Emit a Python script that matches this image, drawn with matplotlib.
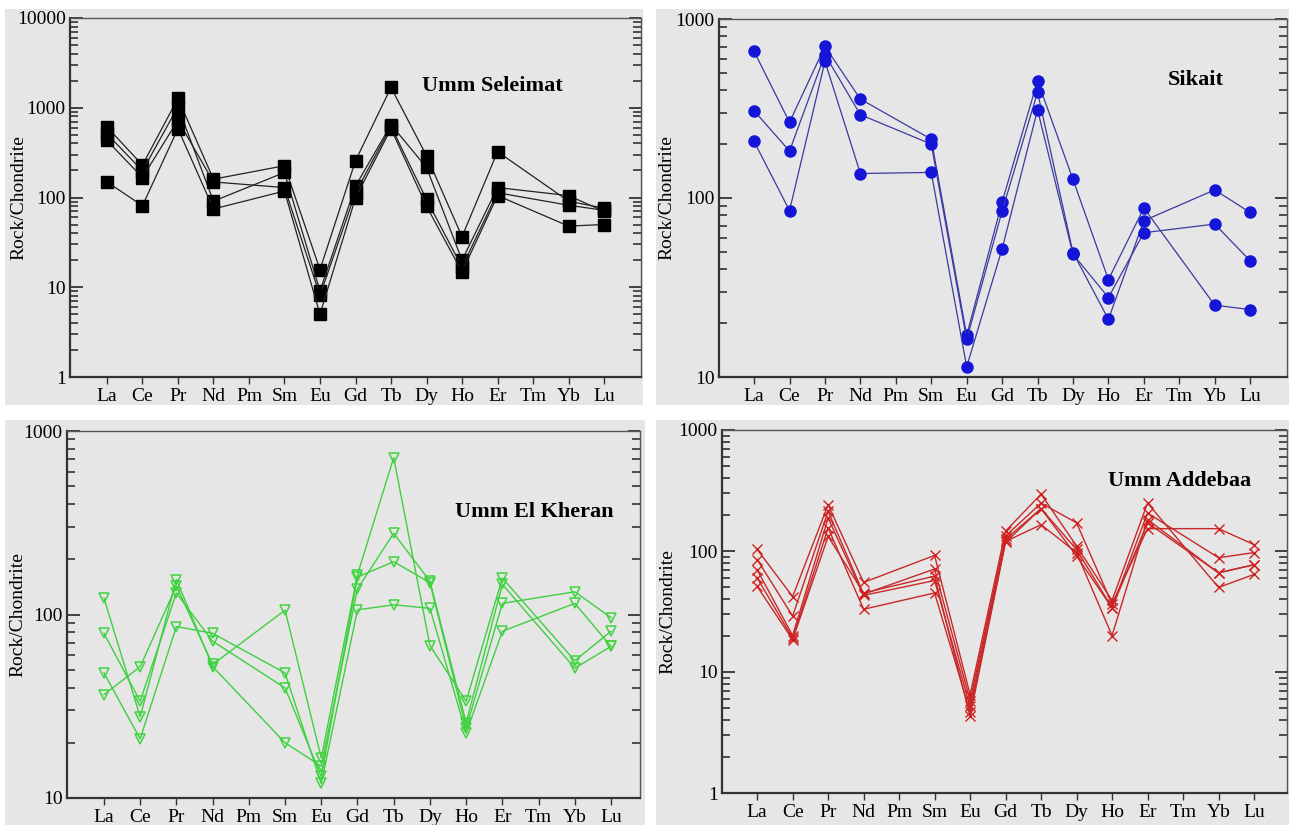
import matplotlib
matplotlib.use("Agg")
import matplotlib.pyplot as plt
from matplotlib.patches import Rectangle
from matplotlib.ticker import LogLocator, NullFormatter, FixedLocator
import numpy as np

plt.rcParams['font.family'] = ['Liberation Serif', 'DejaVu Serif']

elements = ["La", "Ce", "Pr", "Nd", "Pm", "Sm", "Eu", "Gd", "Tb", "Dy", "Ho", "Er", "Tm", "Yb", "Lu"]
N = None

# Umm Seleimat (black squares)
seleimat_1 = [611, 230, 1273, 160, N, 226, 15.7, 257, 1683, 292, 36.6, 324, N, 91, 76]
seleimat_2 = [513, 198, 1026, 91, N, 190, 9.1, 134, 648, 216, 20, 129, N, 105, 70]
seleimat_3 = [432, 167, 725, 149, N, 129, 8.1, 113, 620, 95, 16.8, 113, N, 82, 72]
seleimat_4 = [149, 81, 584, 74.5, N, 118, 5.0, 99, 584, 80, 14.8, 105, N, 48, 50]

# Sikait (blue circles)
sikait_1 = [659, 265, 703, 357, N, 213, 17.1, 95, 452, 127, 35, 88, N, 25.2, 23.8]
sikait_2 = [307, 183, 632, 292, N, 200, 16.2, 84.5, 390, 49.6, 21, 74.7, N, 111, 83]
sikait_3 = [207, 85, 580, 137, N, 139, 11.4, 52, 311, 48.5, 27.8, 64, N, 71.5, 44.6]

# Umm El Kheran (green open triangles)
kheran_1 = [36.6, 51.9, 143, 53.4, N, 105.6, 16.5, 165, 716, 67.7, 33.7, 158, N, 56, 81]
kheran_2 = [123, 27.7, 155, 52, N, 20, 14.9, 138, 277, 152, 25.7, 146, N, 51, 67]
kheran_3 = [79, 33.7, 131, 71.5, N, 39.8, 13.1, 160, 194, 149, 24, 115, N, 133, 96]
kheran_4 = [48, 21, 86, 79, N, 48, 12.0, 106, 113, 108, 22.6, 81, N, 115, 67]

# Umm Addebaa (red crosses)
addebaa_1 = [103, 42, 241, 55, N, 92, 6.5, 146, 295, 110, 39, 249, N, 50, 64]
addebaa_2 = [85, 29, 213, 44, N, 71, 5.8, 133, 249, 171, 36.6, 153, N, 153, 113]
addebaa_3 = [70, 20, 187, 43, N, 57, 5.2, 125, 224, 103, 34, 206, N, 88, 97]
addebaa_4 = [60, 19, 155, 33, N, 45, 4.7, 120, 165, 97, 20, 182, N, 66, 77]
addebaa_5 = [51, 18.5, 132, 45, N, 62, 4.3, 118, 224, 91, 34, 171, N, 66, 77]

W, H = 1289, 825
fig = plt.figure(figsize=(W / 100, H / 100), dpi=100)
fig.patch.set_facecolor("white")

BG = "#e6e6e6"
# panel backgrounds (pixel boxes: left, top, right, bottom)
for (l, t, r, b) in [(5, 9, 643, 405), (656, 9, 1289, 405), (5, 420, 645, 825), (656, 420, 1289, 825)]:
    fig.patches.append(Rectangle((l / W, 1 - b / H), (r - l) / W, (b - t) / H,
                                 transform=fig.transFigure, facecolor=BG, edgecolor="none", zorder=-10))


def make_axes(l, r, t, b):
    return fig.add_axes([l / W, 1 - b / H, (r - l) / W, (b - t) / H])


def setup(ax, ylim, xlim, title, title_xy, ylab_x):
    ax.set_facecolor(BG)
    ax.set_yscale("log")
    ax.set_ylim(*ylim)
    ax.set_xlim(*xlim)
    ax.xaxis.set_major_locator(FixedLocator(range(len(elements))))
    ax.set_xticklabels(elements, fontsize=14)
    ax.yaxis.set_major_locator(LogLocator(base=10, numticks=10))
    ax.yaxis.set_minor_locator(LogLocator(base=10, subs=np.arange(2, 10), numticks=20))
    ax.yaxis.set_minor_formatter(NullFormatter())
    ax.yaxis.set_major_formatter(plt.FuncFormatter(lambda v, p: f"{int(round(v))}"))
    ax.tick_params(axis="y", which="major", direction="in", length=9, width=1.3,
                   left=True, right=True, labelsize=14, pad=3, color="#333333")
    ax.tick_params(axis="y", which="minor", direction="in", length=6, width=1.2,
                   left=True, right=True, color="#333333")
    ax.tick_params(axis="x", which="major", direction="out", length=5, width=1.0,
                   labelsize=14, pad=3, color="#333333")
    for s in ["left", "bottom"]:
        ax.spines[s].set_linewidth(1.6)
        ax.spines[s].set_color("#333333")
    for s in ["top", "right"]:
        ax.spines[s].set_linewidth(1.0)
        ax.spines[s].set_color("#555555")
    ax.text(title_xy[0], title_xy[1], title, transform=ax.transAxes, fontsize=16,
            fontweight="bold", ha="center", va="center")
    ax.set_ylabel("Rock/Chondrite", fontsize=14)
    ax.yaxis.set_label_coords(ylab_x, 0.5)


def draw(ax, series, color, lcolor, marker, ms, mfc, lw=0.9, mew=1.0):
    for s in series:
        xs = [i for i, v in enumerate(s) if v is not None]
        ys = [v for v in s if v is not None]
        ax.plot(xs, ys, color=lcolor, lw=lw, marker=marker, ms=ms,
                mfc=mfc, mec=color, mew=mew, zorder=3)


# Panel 1: Umm Seleimat
ax1 = make_axes(70, 641, 18, 377)
setup(ax1, (1, 10000), (-1.04, 15.04), "Umm Seleimat", (0.74, 0.81), -0.075)
draw(ax1, [seleimat_1, seleimat_2, seleimat_3, seleimat_4], "black", "#222222", "s", 8, "black")

# Panel 2: Sikait
ax2 = make_axes(719, 1287, 19, 377)
setup(ax2, (10, 1000), (-0.99, 15.04), "Sikait", (0.84, 0.83), -0.076)
draw(ax2, [sikait_1, sikait_2, sikait_3], "#1515d8", "#3a3aa0", "o", 8, "#1515d8")

# Panel 3: Umm El Kheran
ax3 = make_axes(67, 640, 431, 798)
setup(ax3, (10, 1000), (-1.02, 14.8), "Umm El Kheran", (0.815, 0.78), -0.07)
draw(ax3, [kheran_1, kheran_2, kheran_3, kheran_4], "#3fd43f", "#3fcf3f", "v", 7.5, "none", lw=1.0, mew=1.1)

# Panel 4: Umm Addebaa
ax4 = make_axes(722, 1287, 430, 793)
setup(ax4, (1, 1000), (-0.99, 14.93), "Umm Addebaa", (0.81, 0.86), -0.081)
draw(ax4, [addebaa_1, addebaa_2, addebaa_3, addebaa_4, addebaa_5], "#d02020", "#c82828", "x", 7, "none", lw=1.0, mew=1.0)

fig.savefig("out.png", dpi=100, facecolor=fig.get_facecolor())
